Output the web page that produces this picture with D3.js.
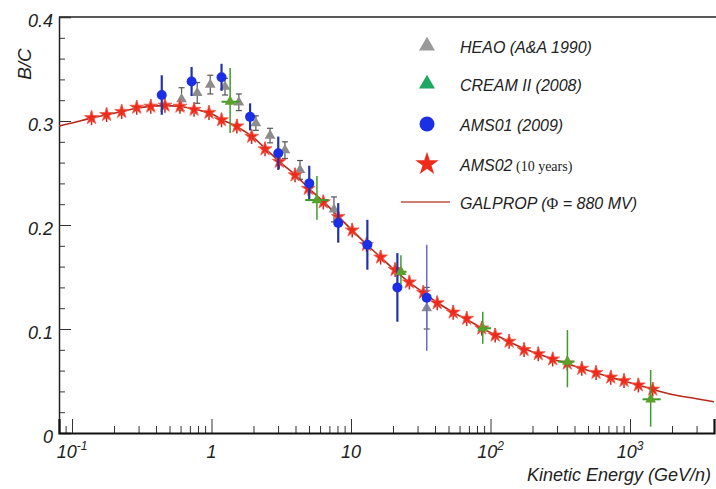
<!DOCTYPE html>
<html>
<head>
<meta charset="utf-8">
<script src="https://cdn.jsdelivr.net/npm/d3@7"></script>
<style>
  body { margin: 0; background: #fff; }
  svg { display: block; font-family: "Liberation Sans", Arial, sans-serif; font-style: italic; }
</style>
</head>
<body>
<div id="chart"></div>
<script>
// GALPROP model curve
const galpropE  = [0.08, 0.1, 0.14, 0.2, 0.3, 0.45, 0.6, 0.8, 1.0, 1.2, 1.5, 2.0, 2.5, 3.0, 4.0, 5.0, 6.5, 8, 10, 13, 16, 20, 26, 33, 42, 54, 68, 86, 110, 140, 175, 220, 280, 350, 450, 570, 730, 900, 1150, 1450, 2000, 3000, 4000];
const galpropBC = [0.295, 0.298, 0.303, 0.3075, 0.3125, 0.3148, 0.314, 0.3105, 0.307, 0.301, 0.295, 0.284, 0.272, 0.262, 0.248, 0.235, 0.221, 0.209, 0.196, 0.181, 0.170, 0.158, 0.145, 0.135, 0.125, 0.116, 0.109, 0.101, 0.094, 0.087, 0.081, 0.076, 0.071, 0.067, 0.062, 0.058, 0.0535, 0.050, 0.046, 0.042, 0.037, 0.033, 0.030];

// AMS02 (10 years) projection
const ams02E  = [0.138, 0.177, 0.227, 0.291, 0.367, 0.464, 0.594, 0.75, 0.96, 1.18, 1.52, 1.94, 2.42, 3.06, 3.97, 4.94, 6.33, 8.1, 10.2, 12.9, 16.3, 20.7, 26.2, 33, 41.5, 54, 67.5, 86.5, 108, 136, 174, 220, 279, 355, 451, 571, 728, 906, 1148, 1455];
const ams02BC = [0.303, 0.306, 0.309, 0.313, 0.314, 0.315, 0.314, 0.311, 0.308, 0.301, 0.295, 0.285, 0.273, 0.261, 0.248, 0.235, 0.222, 0.208, 0.195, 0.181, 0.169, 0.157, 0.145, 0.135, 0.125, 0.116, 0.110, 0.1007, 0.094, 0.088, 0.080, 0.076, 0.071, 0.067, 0.062, 0.058, 0.0535, 0.0503, 0.046, 0.042];
const ams02Err = 0.007;

// HEAO (A&A 1990)
const heaoE   = [0.61, 0.79, 0.98, 1.25, 1.57, 2.08, 2.63, 3.36, 4.31, 7.55, 34.9];
const heaoBC  = [0.321, 0.327, 0.335, 0.333, 0.318, 0.298, 0.286, 0.272, 0.253, 0.215, 0.12];
const heaoErr = [0.011, 0.010, 0.009, 0.008, 0.008, 0.007, 0.007, 0.008, 0.009, 0.012, 0.02];

// CREAM II (2008)
const creamE     = [1.36, 5.7, 22.8, 88, 356, 1406];
const creamELo   = [1.18, 4.7, 21.5, 81, 305, 1230];
const creamEHi   = [1.59, 6.9, 25, 101, 400, 1660];
const creamBC    = [0.3185, 0.224, 0.155, 0.1007, 0.0686, 0.0324];
const creamErrLo = [0.030, 0.019, 0.012, 0.015, 0.0246, 0.0264];
const creamErrHi = [0.0325, 0.023, 0.016, 0.016, 0.0304, 0.0282];

// AMS01 (2009)
const ams01E   = [0.44, 0.72, 1.18, 1.89, 3.01, 5.02, 8.1, 13.1, 21.5, 34.9];
const ams01BC  = [0.325, 0.338, 0.342, 0.304, 0.269, 0.240, 0.202, 0.181, 0.140, 0.130];
const ams01Err = [0.019, 0.014, 0.013, 0.013, 0.016, 0.017, 0.019, 0.024, 0.033, 0.051];

// axis ticks
const yTicks = [0, 0.1, 0.2, 0.3, 0.4];
const yTickLabels = ["0", "0.1", "0.2", "0.3", "0.4"];
const xTicks = [0.1, 1, 10, 100, 1000];
const xTickBase = ["10", "1", "10", "10", "10"];
const xTickExp = ["-1", "", "", "2", "3"];

const legendLabels = ["HEAO (A&A 1990)", "CREAM II (2008)", "AMS01 (2009)", "AMS02", "GALPROP ("];

const width = 716, height = 489;
const mLeft = 59, mRight = 714, mTop = 17, mBottom = 433;

const svg = d3.select("#chart").append("svg")
  .attr("width", width)
  .attr("height", height);

const x = d3.scaleLog().domain([0.0807, 4000]).range([mLeft, mRight]);
const y = d3.scaleLinear().domain([0, 0.4]).range([mBottom, mTop]);

const red = "#ee2a1a", blue = "#1a2fe6", gray = "#8c8c8c", green = "#3f9a2c";

svg.append("defs").append("clipPath").attr("id", "clip")
  .append("rect").attr("x", mLeft).attr("y", mTop).attr("width", width - mLeft).attr("height", mBottom - mTop);

// frame top line
svg.append("line")
  .attr("x1", mLeft).attr("x2", width).attr("y1", mTop).attr("y2", mTop)
  .attr("stroke", "#222").attr("stroke-width", 1.5);

// y axis
const yMinor = d3.range(0, 0.401, 0.02).filter(v => Math.abs(v * 10 - Math.round(v * 10)) > 1e-6);
svg.append("g").attr("transform", `translate(${mLeft},0)`)
  .call(d3.axisLeft(y).tickValues(yMinor).tickSize(-6).tickFormat(""))
  .call(g => g.select(".domain").remove())
  .selectAll("line").attr("stroke", "#333");

const yAx = svg.append("g").attr("transform", `translate(${mLeft},0)`)
  .call(d3.axisLeft(y).tickValues(yTicks).tickSize(-12).tickPadding(6)
    .tickFormat((d, i) => yTickLabels[i]));
yAx.select(".domain").attr("stroke", "#222").attr("stroke-width", 1.5);
yAx.selectAll("line").attr("stroke", "#333");
yAx.selectAll("text")
  .attr("font-size", 18).attr("font-family", "Liberation Sans, Arial, sans-serif")
  .attr("font-style", "italic").attr("fill", "#222").attr("dy", "0.55em");

// x axis
const xMinor = [];
[0.01, 0.1, 1, 10, 100, 1000].forEach(dec => {
  for (let k = 2; k <= 9; k++) {
    const v = dec * k;
    if (v >= 0.0807 && v <= 4000) xMinor.push(v);
  }
});
svg.append("g").attr("transform", `translate(0,${mBottom})`)
  .call(d3.axisBottom(x).tickValues(xMinor).tickSize(-7).tickFormat(""))
  .call(g => g.select(".domain").remove())
  .selectAll("line").attr("stroke", "#333");

const xAx = svg.append("g").attr("transform", `translate(0,${mBottom})`)
  .call(d3.axisBottom(x).tickValues(xTicks).tickSize(-14).tickFormat(""));
xAx.select(".domain").attr("stroke", "#111").attr("stroke-width", 2.2);
xAx.selectAll("line").attr("stroke", "#333");

const xl = svg.append("g").selectAll("text")
  .data(xTicks)
  .join("text")
  .attr("x", d => x(d))
  .attr("y", 458)
  .attr("text-anchor", "middle")
  .attr("font-size", 18)
  .attr("fill", "#222");
xl.append("tspan").text((d, i) => xTickBase[i]);
xl.append("tspan").attr("dy", -8).attr("font-size", 12).text((d, i) => xTickExp[i]);

// axis titles
svg.append("text")
  .attr("x", 711).attr("y", 481)
  .attr("text-anchor", "end")
  .attr("font-size", 18).attr("fill", "#222")
  .text("Kinetic Energy (GeV/n)");

svg.append("text")
  .attr("transform", "translate(31,64) rotate(-90)")
  .attr("text-anchor", "middle")
  .attr("font-size", 19).attr("fill", "#222")
  .text("B/C");

const plot = svg.append("g").attr("clip-path", "url(#clip)");

// GALPROP curve
const galprop = galpropE.map((e, i) => ({ e, v: galpropBC[i] }));
plot.append("path")
  .datum(galprop)
  .attr("fill", "none")
  .attr("stroke", "#b8281c")
  .attr("stroke-width", 1.6)
  .attr("d", d3.line().x(d => x(d.e)).y(d => y(d.v)).curve(d3.curveMonotoneX));

// HEAO
const heao = heaoE.map((e, i) => ({ e, v: heaoBC[i], err: heaoErr[i] }));
const gH = plot.append("g");
gH.selectAll("line.bar").data(heao).join("line")
  .attr("x1", d => x(d.e)).attr("x2", d => x(d.e))
  .attr("y1", d => y(d.v - d.err)).attr("y2", d => y(d.v + d.err))
  .attr("stroke", "#555").attr("stroke-width", 1.2);
gH.selectAll("line.cap").data(heao.flatMap(d => [d.v - d.err, d.v + d.err].map(v => ({ e: d.e, v }))))
  .join("line")
  .attr("x1", d => x(d.e) - 3).attr("x2", d => x(d.e) + 3)
  .attr("y1", d => y(d.v)).attr("y2", d => y(d.v))
  .attr("stroke", "#555").attr("stroke-width", 1.2);
gH.selectAll("path").data(heao).join("path")
  .attr("transform", d => `translate(${x(d.e)},${y(d.v)})`)
  .attr("d", d3.symbol(d3.symbolTriangle, 50))
  .attr("fill", gray);

// AMS02 stars
const ams02 = ams02E.map((e, i) => ({ e, v: ams02BC[i] }));
const gS = plot.append("g");
gS.selectAll("line").data(ams02).join("line")
  .attr("x1", d => x(d.e)).attr("x2", d => x(d.e))
  .attr("y1", d => y(d.v - ams02Err)).attr("y2", d => y(d.v + ams02Err))
  .attr("stroke", "#c8281a").attr("stroke-width", 1.5);
gS.selectAll("path").data(ams02).join("path")
  .attr("transform", d => `translate(${x(d.e)},${y(d.v)})`)
  .attr("d", d3.symbol(d3.symbolStar, 60))
  .attr("fill", red).attr("stroke", "#f06050").attr("stroke-width", 0.8);

// AMS01
const ams01 = ams01E.map((e, i) => ({ e, v: ams01BC[i], err: ams01Err[i] }));
const gA = plot.append("g");
gA.selectAll("line").data(ams01).join("line")
  .attr("x1", d => x(d.e)).attr("x2", d => x(d.e))
  .attr("y1", d => y(d.v - d.err)).attr("y2", d => y(d.v + d.err))
  .attr("stroke", (d, i) => i === ams01.length - 1 ? "#6a6acc" : "#2233aa")
  .attr("stroke-width", (d, i) => i === ams01.length - 1 ? 1.5 : 2.2);
gA.selectAll("circle").data(ams01).join("circle")
  .attr("cx", d => x(d.e)).attr("cy", d => y(d.v)).attr("r", 5)
  .attr("fill", blue);

// CREAM II
const cream = creamE.map((e, i) => ({ e, v: creamBC[i], lo: creamErrLo[i], hi: creamErrHi[i], e0: creamELo[i], e1: creamEHi[i] }));
const gC = plot.append("g");
gC.selectAll("line.v").data(cream).join("line")
  .attr("x1", d => x(d.e)).attr("x2", d => x(d.e))
  .attr("y1", d => y(d.v - d.lo)).attr("y2", d => y(d.v + d.hi))
  .attr("stroke", green).attr("stroke-width", 1.5);
gC.selectAll("line.h").data(cream).join("line")
  .attr("x1", d => x(d.e0)).attr("x2", d => x(d.e1))
  .attr("y1", d => y(d.v)).attr("y2", d => y(d.v))
  .attr("stroke", green).attr("stroke-width", 2);
gC.selectAll("path").data(cream).join("path")
  .attr("transform", d => `translate(${x(d.e)},${y(d.v)})`)
  .attr("d", d3.symbol(d3.symbolTriangle, 50))
  .attr("fill", "#5aa02a");

// legend
const lg = svg.append("g");
const rowY = [46, 84, 124, 164, 202];
const tx = 460;
lg.append("path").attr("transform", `translate(427,${rowY[0]})`)
  .attr("d", d3.symbol(d3.symbolTriangle, 110)).attr("fill", "#999");
lg.append("path").attr("transform", `translate(427,${rowY[1]})`)
  .attr("d", d3.symbol(d3.symbolTriangle, 110)).attr("fill", "#1fa862");
lg.append("circle").attr("cx", 427).attr("cy", rowY[2]).attr("r", 7.5).attr("fill", blue);
lg.append("path").attr("transform", `translate(427,${rowY[3]})`)
  .attr("d", d3.symbol(d3.symbolStar, 170)).attr("fill", red);
lg.append("line").attr("x1", 401).attr("x2", 450).attr("y1", rowY[4]).attr("y2", rowY[4])
  .attr("stroke", "#c05040").attr("stroke-width", 1.6);

const lt = lg.selectAll("text").data(legendLabels).join("text")
  .attr("x", tx).attr("y", (d, i) => rowY[i] + 7)
  .attr("font-size", 16).attr("fill", "#222")
  .text(d => d);
lt.filter((d, i) => i === 3).append("tspan")
  .attr("font-family", "Liberation Serif, Times New Roman, serif")
  .attr("font-style", "normal").attr("font-size", 14)
  .text(" (10 years)");
const gp = lt.filter((d, i) => i === 4);
gp.append("tspan")
  .attr("font-family", "Liberation Serif, Times New Roman, serif")
  .attr("font-style", "normal").text("Φ");
gp.append("tspan").text(" = 880 MV)");
</script>
</body>
</html>
